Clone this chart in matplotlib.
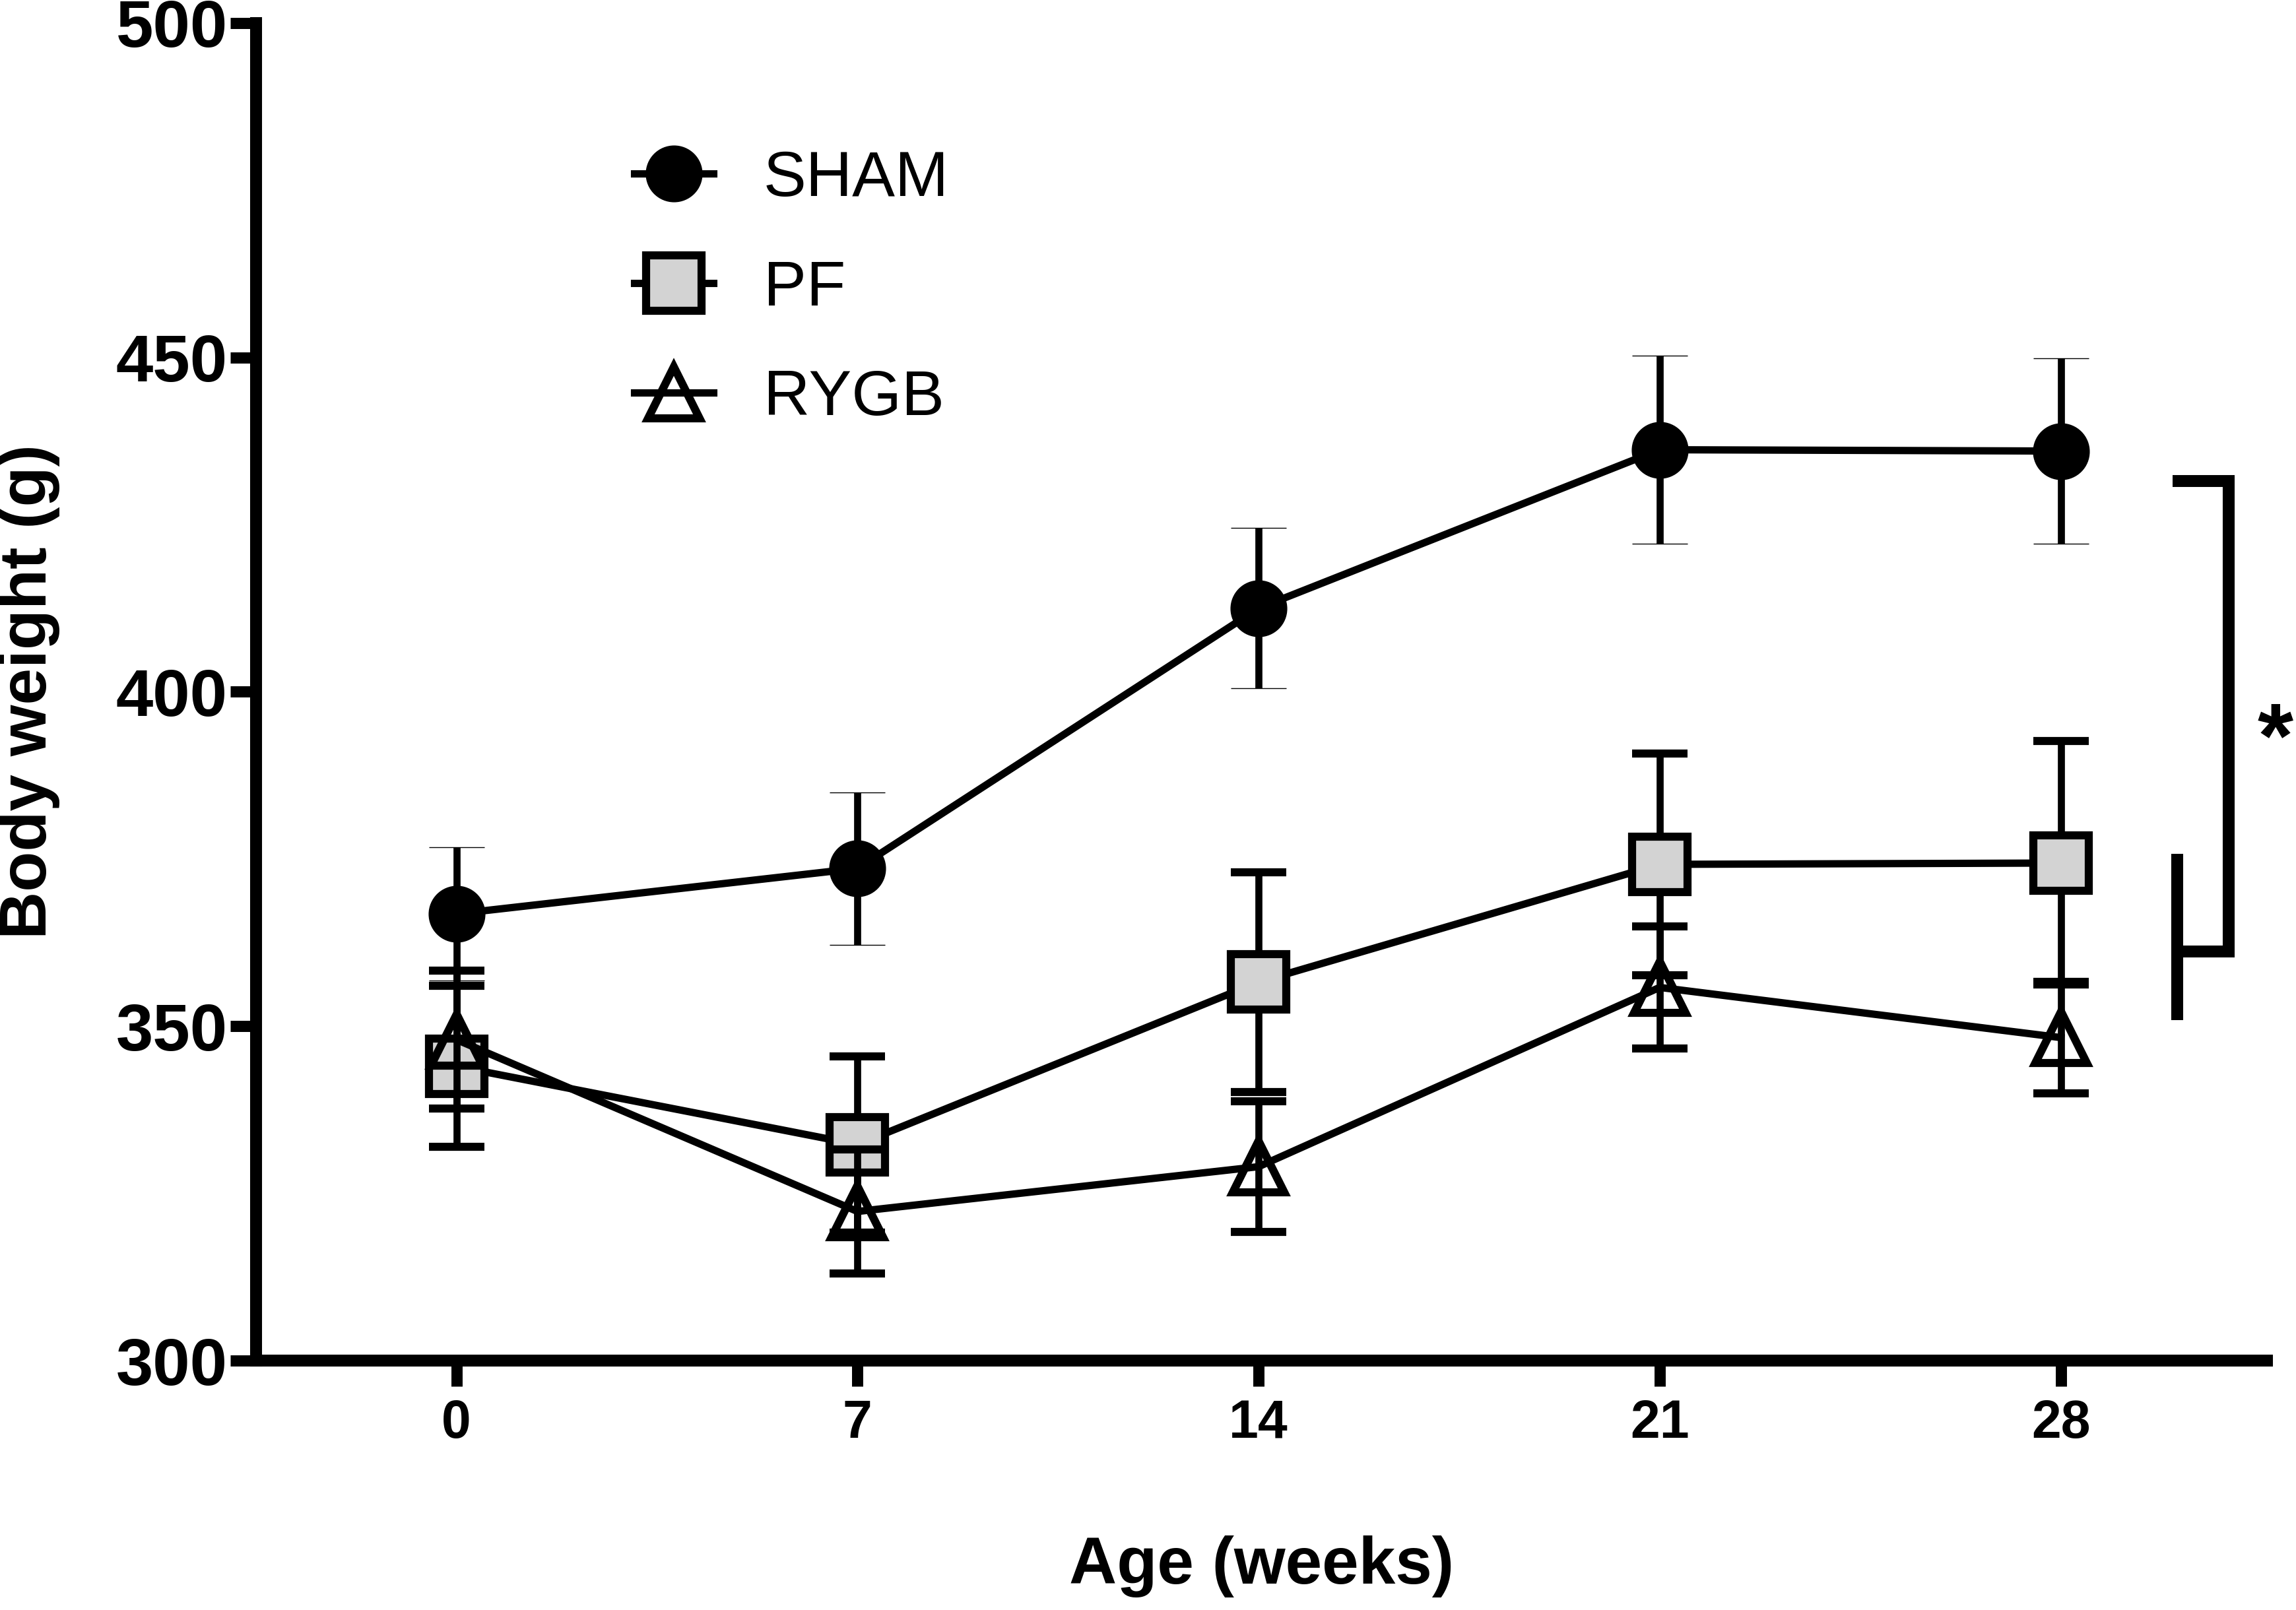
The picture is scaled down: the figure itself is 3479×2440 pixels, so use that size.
import matplotlib
matplotlib.use("Agg")
import matplotlib.pyplot as plt
from matplotlib.lines import Line2D

# ---- data ----
weeks = [0, 7, 14, 21, 28]
sham_mean = [366.8, 373.6, 412.5, 436.2, 436.0]
sham_err = [10.0, 11.4, 12.0, 14.1, 13.9]
pf_mean = [344.0, 332.3, 356.6, 374.2, 374.4]
pf_err = [12.0, 13.2, 16.4, 16.6, 18.2]
rygb_mean = [348.0, 322.3, 329.0, 355.8, 348.3]
rygb_err = [10.3, 9.3, 9.8, 9.1, 8.3]
labels = ["SHAM", "PF", "RYGB"]
x_ticks = [0, 7, 14, 21, 28]
y_ticks = [300, 350, 400, 450, 500]

plt.rcParams['font.family'] = ['Liberation Sans', 'DejaVu Sans']

fig = plt.figure(figsize=(17.4, 12.2), dpi=200)
ax = fig.add_axes([0.1114, 0.1549, 0.9871 - 0.1114, 0.9857 - 0.1549])

lw = 4.0
common = dict(color='black', lw=lw, capsize=15, capthick=4.6, elinewidth=3.85,
              ecolor='black')

ax.errorbar(weeks, sham_mean, yerr=sham_err, marker='o', ms=30.5,
            mfc='black', mec='black', mew=0.5, zorder=3, **common)
ax.errorbar(weeks, pf_mean, yerr=pf_err, marker='s', ms=30, mfc='#d3d3d3',
            mec='black', mew=4.4, zorder=4, **common)
ax.errorbar(weeks, rygb_mean, yerr=rygb_err, marker='^', ms=28, mfc='none',
            mec='black', mew=4.4, zorder=5, **common)

ax.set_xlim(-3.5, 31.6)
ax.set_ylim(300, 500)
ax.set_xticks(x_ticks)
ax.set_yticks(y_ticks)
ax.set_xticklabels([str(v) for v in x_ticks], fontsize=29, fontweight='bold')
ax.set_yticklabels([str(v) for v in y_ticks], fontsize=36.5, fontweight='bold')

for s in ['top', 'right']:
    ax.spines[s].set_visible(False)
for s in ['left', 'bottom']:
    ax.spines[s].set_linewidth(6.5)
    ax.spines[s].set_capstyle('projecting')
ax.tick_params(axis='both', direction='out', length=14, width=6.1, color='black')
ax.tick_params(axis='y', pad=1.5)
ax.tick_params(axis='x', pad=7)

ax.set_xlabel("Age (weeks)", fontsize=36, fontweight='bold')
ax.set_ylabel("Body weight (g)", fontsize=36, fontweight='bold')
ax.xaxis.set_label_coords(0.5, -0.154)
ax.xaxis.label.set_va('center')
ax.yaxis.set_label_coords(-0.1127, 0.5)
ax.yaxis.label.set_va('center')

# significance bracket
bk = dict(color='black', lw=6.5, solid_capstyle='butt', solid_joinstyle='miter',
          clip_on=False)
ax.plot([29.95, 30.93, 30.93, 30.03], [431.5, 431.5, 361.2, 361.2], **bk)
ax.plot([30.03, 30.03], [375.8, 350.9], **bk)
ax.text(31.74, 392.3, "*", fontsize=50, fontweight='bold', ha='center',
        va='center', clip_on=False)

handles = [
    Line2D([0], [0], color='black', lw=lw, marker='o', ms=30.5, mfc='black', mec='black', mew=0.5),
    Line2D([0], [0], color='black', lw=lw, marker='s', ms=30, mfc='#d3d3d3', mec='black', mew=4.4),
    Line2D([0], [0], color='black', lw=lw, marker='^', ms=28, mfc='none', mec='black', mew=4.4),
]
ax.legend(handles, labels, loc='upper left', bbox_to_anchor=(0.188, 0.905),
          frameon=False, fontsize=35, handlelength=1.24, handletextpad=0.78,
          labelspacing=0.78, borderpad=0, borderaxespad=0)

fig.savefig("out.png", dpi=200)
